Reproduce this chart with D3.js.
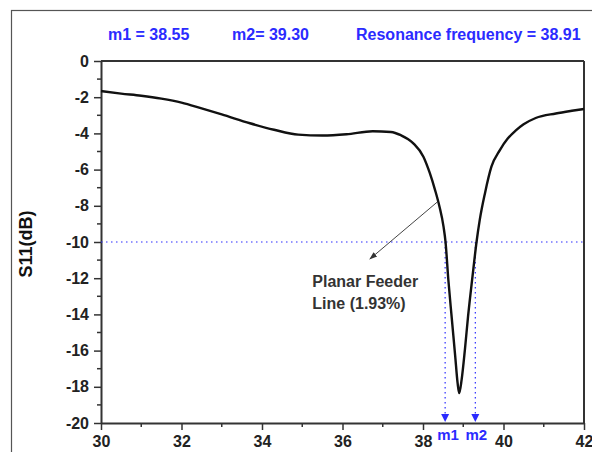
<!DOCTYPE html>
<html>
<head>
<meta charset="utf-8">
<script src="https://cdn.jsdelivr.net/npm/d3@7"></script>
<style>
  body { margin: 0; background: #fff; }
  svg { font-family: Arial, "Liberation Sans", sans-serif; }
</style>
</head>
<body>
<div id="chart"></div>
<script>
// data
var freq = [30, 30.5, 31, 31.5, 32, 32.5, 33, 33.7, 34.3, 34.9, 35.5, 36.1, 36.75, 37.2, 37.45, 37.76, 38.01,
  38.17, 38.3, 38.41, 38.51, 38.56, 38.63, 38.71, 38.8, 38.86, 38.9, 38.96, 39.04, 39.12, 39.23, 39.33,
  39.41, 39.54, 39.7, 39.91, 40.1, 40.3, 40.5, 40.8, 41.3, 41.7, 42];
var s11 = [-1.66, -1.8, -1.92, -2.08, -2.3, -2.62, -2.95, -3.44, -3.8, -4.07, -4.12, -4.05, -3.88, -3.92, -4.1, -4.55, -5.29,
  -6.2, -7.13, -8.05, -9.15, -10, -12.1, -14.1, -16.3, -17.8, -18.35, -17.6, -15.97, -14.1, -11.9, -10,
  -8.78, -7.3, -5.84, -4.92, -4.3, -3.85, -3.5, -3.15, -2.9, -2.75, -2.65];

var xTicks = [30, 32, 34, 36, 38, 40, 42];
var yTicks = [0, -2, -4, -6, -8, -10, -12, -14, -16, -18, -20];
var markerNames = ["m1", "m2"];
var markerFreq = [38.55, 39.30];
var markerLevel = -10;
var headerTexts = ["m1 = 38.55", "m2= 39.30", "Resonance frequency = 38.91"];
var noteLines = ["Planar Feeder", "Line (1.93%)"];
var noteArrow = [[38.35, -7.8], [36.68, -10.94]];
var notePos = [35.25, -12.5];

var svgWidth = 592, svgHeight = 452;
var margin = { top: 61, right: 8, bottom: 29, left: 101 };
var width = svgWidth - margin.left - margin.right;
var height = svgHeight - margin.top - margin.bottom;
var blue = "#2b2bff";
var axisColor = "#333";

var root = d3.select("#chart").append("svg")
  .attr("width", svgWidth).attr("height", svgHeight);

// outer frame (cut off at right / bottom)
root.append("rect")
  .attr("x", 11.5).attr("y", 10.5)
  .attr("width", 600).attr("height", 460)
  .attr("fill", "none").attr("stroke", "#555").attr("stroke-width", 1.2);

var svg = root.append("g")
  .attr("transform", "translate(" + margin.left + "," + margin.top + ")");

var xScale = d3.scaleLinear().domain([30, 42]).range([0, width]);
var yScale = d3.scaleLinear().domain([0, -20]).range([0, height]);

// header labels
var headerX = [108, 232, 356];
root.selectAll(".hdr").data(headerTexts).enter().append("text")
  .attr("class", "hdr")
  .attr("x", function(d, i) { return headerX[i]; })
  .attr("y", 40)
  .attr("fill", blue)
  .attr("font-size", "16px").attr("font-weight", "bold")
  .text(function(d) { return d; });

// frame of the plot (top and right lines)
svg.append("line").attr("x1", 0).attr("x2", width).attr("y1", 0).attr("y2", 0)
  .attr("stroke", axisColor).attr("stroke-width", 2);
svg.append("line").attr("x1", width).attr("x2", width).attr("y1", 0).attr("y2", height)
  .attr("stroke", axisColor).attr("stroke-width", 2);

// minor ticks
var xMinor = d3.range(31, 42, 2);
var yMinor = d3.range(-1, -20, -2);
svg.selectAll(".xminor").data(xMinor).enter().append("line")
  .attr("x1", xScale).attr("x2", xScale)
  .attr("y1", height).attr("y2", height + 4)
  .attr("stroke", axisColor).attr("stroke-width", 1.5);
svg.selectAll(".yminor").data(yMinor).enter().append("line")
  .attr("x1", 0).attr("x2", -4)
  .attr("y1", yScale).attr("y2", yScale)
  .attr("stroke", axisColor).attr("stroke-width", 1.5);

// axes
var plain = function(d) { return String(d); };
var bottomAxis = d3.axisBottom(xScale).tickValues(xTicks).tickFormat(plain)
  .tickSize(7).tickSizeOuter(0).tickPadding(3);
var leftAxis = d3.axisLeft(yScale).tickValues(yTicks).tickFormat(plain)
  .tickSize(7).tickSizeOuter(0).tickPadding(5);

var gx = svg.append("g")
  .attr("transform", "translate(0," + height + ")")
  .call(bottomAxis);
var gy = svg.append("g").call(leftAxis);

[gx, gy].forEach(function(g) {
  g.select(".domain").attr("stroke", axisColor).attr("stroke-width", 2);
  g.selectAll(".tick line").attr("stroke", axisColor).attr("stroke-width", 1.5);
  g.selectAll("text")
    .attr("fill", "#222")
    .attr("font-size", "16px").attr("font-weight", "bold")
    .attr("font-family", "Arial, 'Liberation Sans', sans-serif");
});
gx.selectAll("text").attr("dy", "0.9em");

// y-axis title
svg.append("text")
  .attr("transform", "rotate(-90)")
  .attr("x", -183)
  .attr("y", -69)
  .style("text-anchor", "middle")
  .attr("fill", "#111")
  .attr("font-size", "18px").attr("font-weight", "bold")
  .text("S11(dB)");

// marker guide lines
svg.append("line")
  .attr("x1", 0).attr("x2", width)
  .attr("y1", yScale(markerLevel)).attr("y2", yScale(markerLevel))
  .attr("stroke", blue).attr("stroke-width", 1.2).attr("stroke-dasharray", "1.5,3.5");

svg.selectAll(".mline").data(markerFreq).enter().append("line")
  .attr("x1", xScale).attr("x2", xScale)
  .attr("y1", yScale(markerLevel)).attr("y2", height - 8)
  .attr("stroke", blue).attr("stroke-width", 1.2).attr("stroke-dasharray", "1.5,3.5");

svg.selectAll(".mhead").data(markerFreq).enter().append("path")
  .attr("d", function(d) {
    var x = xScale(d), y = height - 1;
    return "M" + (x - 4) + "," + (y - 8) + "L" + (x + 4) + "," + (y - 8) + "L" + x + "," + y + "Z";
  })
  .attr("fill", blue);

svg.selectAll(".mlabel").data(markerNames).enter().append("text")
  .attr("x", function(d, i) { return xScale(markerFreq[i]) + (i === 0 ? 3 : 1); })
  .attr("y", height + 17)
  .attr("text-anchor", "middle")
  .attr("fill", blue)
  .attr("font-size", "15px").attr("font-weight", "bold")
  .text(function(d) { return d; });

// S11 curve
var line = d3.line()
  .x(function(d) { return xScale(d[0]); })
  .y(function(d) { return yScale(d[1]); })
  .curve(d3.curveMonotoneX);

svg.append("path")
  .datum(freq.map(function(f, i) { return [f, s11[i]]; }))
  .attr("d", line)
  .attr("fill", "none")
  .attr("stroke", "#111")
  .attr("stroke-width", 2.4);

// annotation
svg.append("defs").append("marker")
  .attr("id", "arrow")
  .attr("viewBox", "0 0 10 10")
  .attr("refX", 9).attr("refY", 5)
  .attr("markerWidth", 8).attr("markerHeight", 8)
  .attr("orient", "auto")
  .append("path").attr("d", "M0,1.5L10,5L0,8.5Z").attr("fill", "#333");

svg.append("line")
  .attr("x1", xScale(noteArrow[0][0])).attr("y1", yScale(noteArrow[0][1]))
  .attr("x2", xScale(noteArrow[1][0])).attr("y2", yScale(noteArrow[1][1]))
  .attr("stroke", "#444").attr("stroke-width", 1)
  .attr("marker-end", "url(#arrow)");

svg.selectAll(".note").data(noteLines).enter().append("text")
  .attr("x", xScale(notePos[0]))
  .attr("y", function(d, i) { return yScale(notePos[1]) + i * 22; })
  .attr("fill", "#333")
  .attr("font-size", "16px").attr("font-weight", "bold")
  .text(function(d) { return d; });
</script>
</body>
</html>
